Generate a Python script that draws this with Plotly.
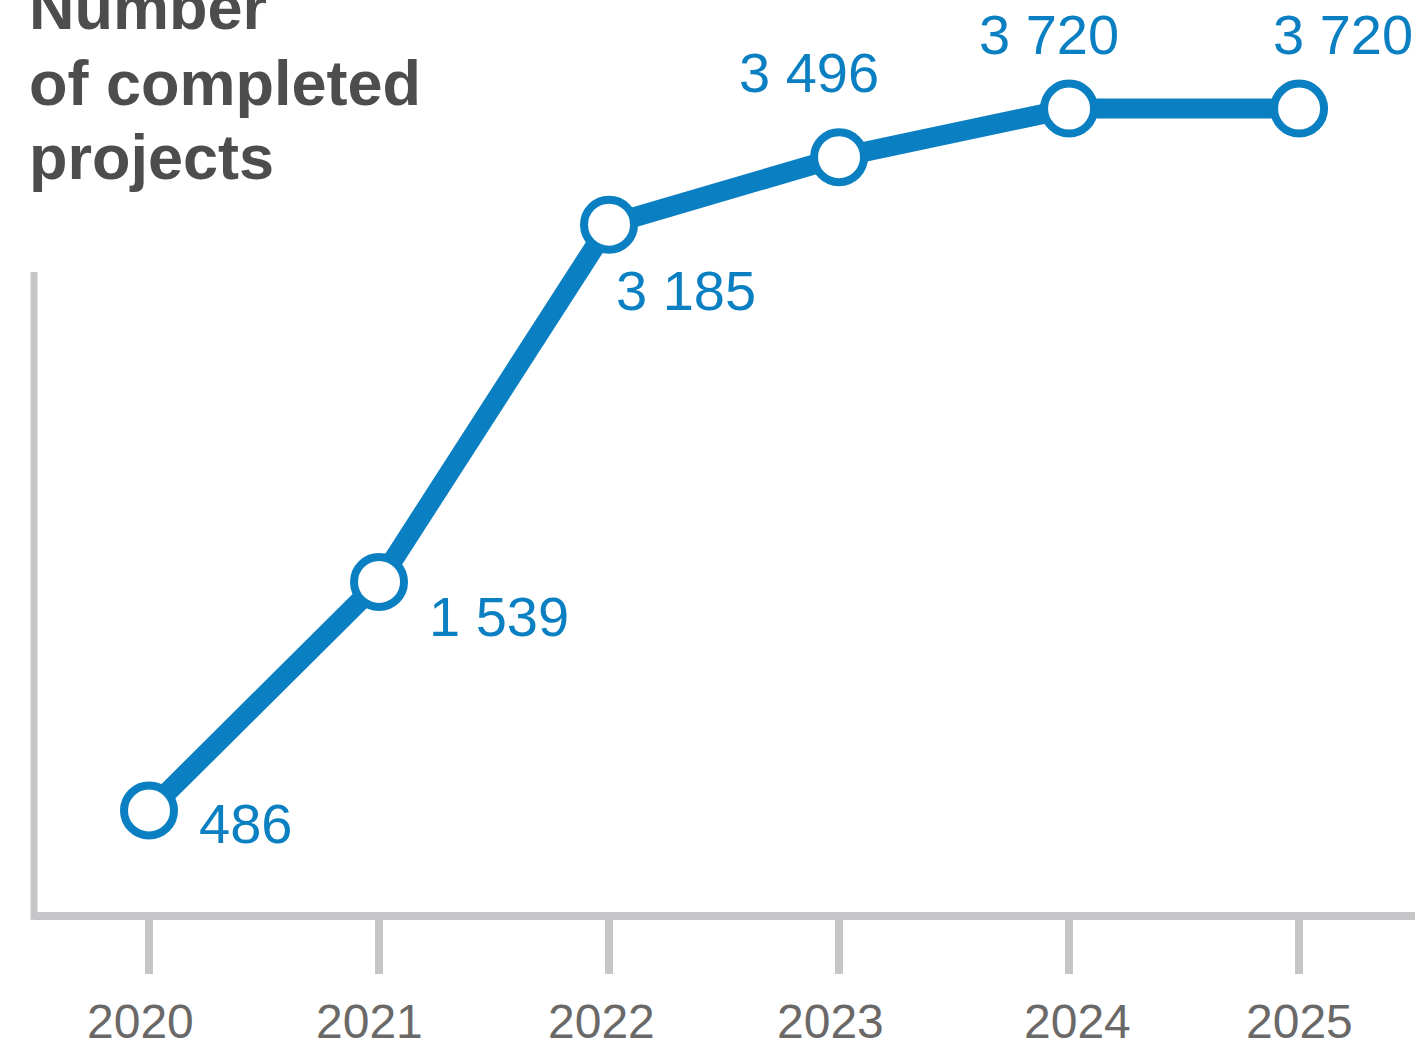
import plotly.graph_objects as go

years = [2020, 2021, 2022, 2023, 2024, 2025]
completed = [486, 1539, 3185, 3496, 3720, 3720]
value_labels = ["486", "1 539", "3 185", "3 496", "3 720", "3 720"]
year_labels = ["2020", "2021", "2022", "2023", "2024", "2025"]
title_lines = ["Number", "of completed", "projects"]

BLUE = "#0a7fc2"
AXIS_GRAY = "#c6c5c8"
TICK_TEXT = "#6b6868"
TITLE_GRAY = "#4d4d4d"
FONT = "Liberation Sans, Arial, sans-serif"

# label placement offsets (pixels) relative to each point
label_dx = [96, 120, 77, -30, -20, 44]
label_dy = [-13, -35, -66, 85, 74, 74]
# year label horizontal nudges (pixels) relative to each tick
year_dx = [-9, -10, -8, -9, 8, 0]

fig = go.Figure()
fig.add_trace(go.Scatter(
    x=years, y=completed,
    mode="lines+markers",
    line=dict(color=BLUE, width=20),
    marker=dict(size=50, color="white", line=dict(color=BLUE, width=8)),
    hoverinfo="skip",
    cliponaxis=False,
))

annotations = []
for xv, yv, txt, dx, dy in zip(years, completed, value_labels, label_dx, label_dy):
    annotations.append(dict(
        x=xv, y=yv, xref="x", yref="y", text=txt, showarrow=False,
        xanchor="center", yanchor="middle", xshift=dx, yshift=dy,
        font=dict(family=FONT, size=56, color=BLUE),
    ))

for xv, txt, dx in zip(years, year_labels, year_dx):
    annotations.append(dict(
        x=xv, y=0, xref="x", yref="paper", text=txt, showarrow=False,
        xanchor="center", yanchor="middle", xshift=dx, yshift=-105,
        font=dict(family=FONT, size=48, color=TICK_TEXT),
    ))

title_shifts = [-6.5, -82.5, -156.5]
for line, ys in zip(title_lines, title_shifts):
    annotations.append(dict(
        x=0, y=1, xref="paper", yref="paper", text="<b>" + line + "</b>",
        showarrow=False, xanchor="left", yanchor="middle", xshift=-7, yshift=ys,
        font=dict(family=FONT, size=63, color=TITLE_GRAY),
    ))

shapes = [
    # x axis line
    dict(type="line", xref="paper", yref="paper", x0=0, x1=1, y0=0, y1=0,
         line=dict(color=AXIS_GRAY, width=8), layer="below"),
    # partial y axis line
    dict(type="line", xref="paper", yref="paper", x0=0, x1=0, y0=-0.004, y1=0.703,
         line=dict(color=AXIS_GRAY, width=7), layer="below"),
]

fig.update_layout(
    width=1420, height=1051,
    margin=dict(l=34, r=5, t=0, b=135),
    paper_bgcolor="white", plot_bgcolor="white",
    showlegend=False,
    annotations=annotations,
    shapes=shapes,
    xaxis=dict(
        range=[2019.5, 2025.504], tickmode="array", tickvals=years,
        showticklabels=False,
        ticks="outside", ticklen=57, tickwidth=8, tickcolor=AXIS_GRAY,
        showline=False, showgrid=False, zeroline=False,
        fixedrange=True,
    ),
    yaxis=dict(
        range=[0, 4220], showticklabels=False, showgrid=False,
        zeroline=False, showline=False, ticks="", fixedrange=True,
    ),
)

fig.write_html(
    "out.html",
    config={"displayModeBar": False},
    post_script="document.body.style.margin='0';document.body.style.overflow='hidden';",
)
